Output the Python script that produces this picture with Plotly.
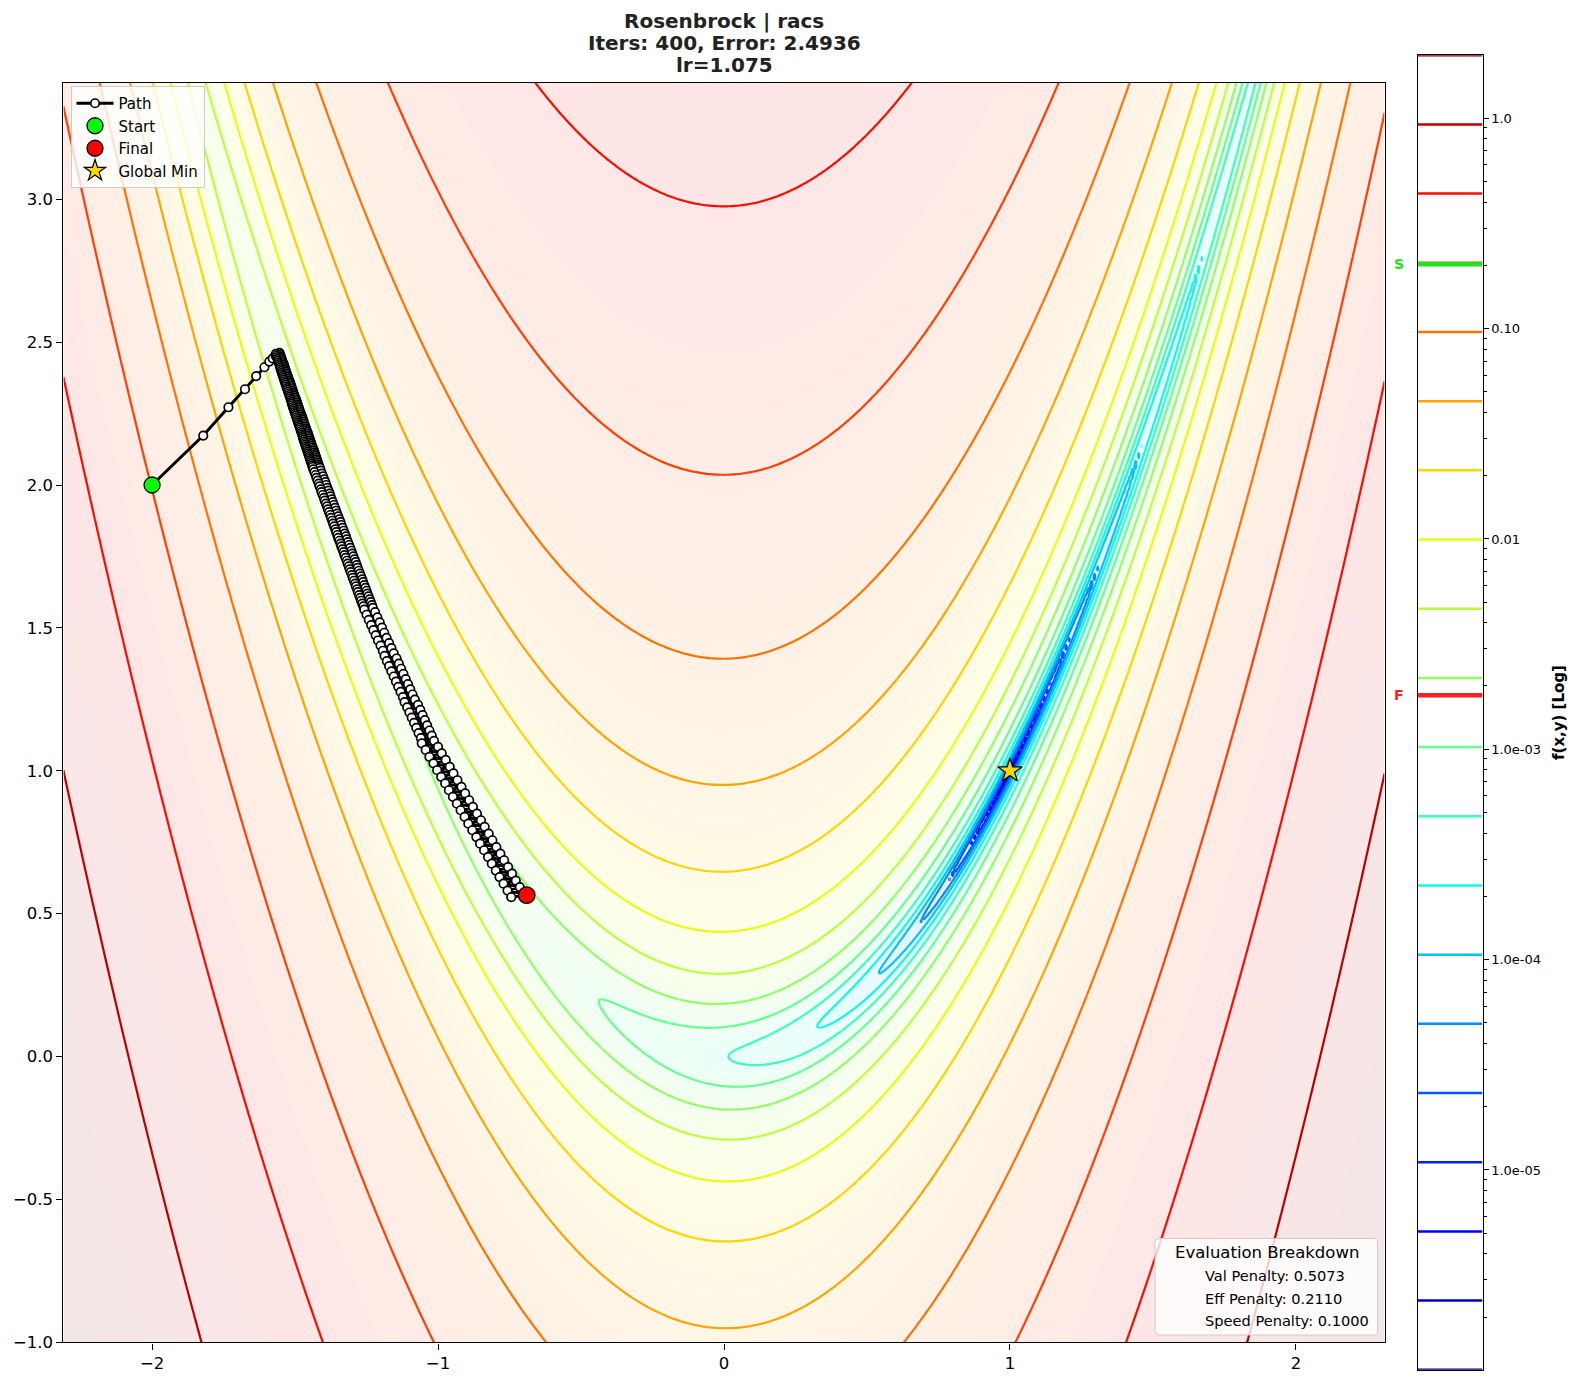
import numpy as np
import plotly.graph_objects as go

# ---------------- data ----------------
title_lines = ["Rosenbrock | racs", "Iters: 400, Error: 2.4936", "lr=1.075"]
x_range = [-2.31, 2.31]
y_range = [-1.0, 3.408]
norm_const = 2020.0          # f(x,y) is shown divided by this
level_log_min = -5.95        # log10 of lowest contour level
level_log_max = 0.30         # log10 of highest contour level
n_levels = 20
grid_n = 420

start_x, start_y = -2.0, 2.0
gmin_x, gmin_y = 1.0, 1.0

path_x = [
    -2.000, -1.821, -1.733, -1.675, -1.636, -1.607, -1.590, -1.578, -1.568,
    # upper (dense) part
    -1.554, -1.567, -1.552, -1.565, -1.550, -1.563, -1.548, -1.561, -1.546, -1.559,
    -1.544, -1.557, -1.541, -1.555, -1.539, -1.553, -1.537, -1.551, -1.535, -1.550,
    -1.533, -1.548, -1.531, -1.546, -1.529, -1.544, -1.527, -1.542, -1.525, -1.540,
    -1.523, -1.538, -1.520, -1.536, -1.518, -1.534, -1.516, -1.532, -1.514, -1.530,
    -1.512, -1.528, -1.510, -1.526, -1.508, -1.524, -1.506, -1.522, -1.504, -1.520,
    -1.502, -1.518, -1.499, -1.516, -1.497, -1.514, -1.495, -1.512, -1.493, -1.511,
    -1.491, -1.509, -1.489, -1.507, -1.487, -1.505, -1.485, -1.503, -1.483, -1.501,
    -1.481, -1.499, -1.478, -1.497, -1.476, -1.495, -1.474, -1.493, -1.472, -1.491,
    -1.470, -1.489, -1.468, -1.487, -1.466, -1.485, -1.464, -1.483, -1.462, -1.481,
    -1.460, -1.479, -1.457, -1.477, -1.455, -1.475, -1.453, -1.473, -1.451, -1.472,
    -1.449, -1.470, -1.447, -1.468, -1.445, -1.466, -1.443, -1.464, -1.441, -1.462,
    -1.439, -1.460, -1.436, -1.458, -1.434, -1.456, -1.432, -1.454, -1.430, -1.452,
    -1.428, -1.450, -1.426, -1.448, -1.424, -1.446, -1.422, -1.444, -1.420, -1.442,
    -1.418, -1.440, -1.416, -1.438, -1.413,
    # second part
    -1.436, -1.410, -1.432, -1.406, -1.428, -1.402, -1.425, -1.398, -1.421, -1.394,
    -1.417, -1.391, -1.414, -1.387, -1.410, -1.383, -1.407, -1.379, -1.403, -1.376,
    -1.399, -1.372, -1.396, -1.368, -1.392, -1.364, -1.388, -1.360, -1.385, -1.357,
    -1.381, -1.353, -1.377, -1.349, -1.374, -1.345, -1.370, -1.341, -1.367, -1.338,
    -1.363, -1.334, -1.359, -1.330, -1.356, -1.326, -1.352, -1.322, -1.349, -1.319,
    -1.345, -1.315, -1.341, -1.311, -1.338, -1.307, -1.334, -1.303, -1.330, -1.300,
    -1.327, -1.296, -1.323, -1.292, -1.319, -1.288, -1.316, -1.284, -1.312, -1.281,
    -1.309, -1.277, -1.305, -1.273, -1.301, -1.269, -1.298, -1.265, -1.294, -1.262,
    -1.290, -1.258, -1.287, -1.254, -1.283, -1.250, -1.280, -1.247, -1.276, -1.243,
    -1.272, -1.239, -1.269, -1.235, -1.265, -1.231, -1.261, -1.228,
    # third part
    -1.258, -1.220, -1.250, -1.212, -1.242, -1.204, -1.234, -1.196, -1.226, -1.188,
    -1.218, -1.180, -1.210, -1.171, -1.201, -1.163, -1.193, -1.155, -1.187, -1.145,
    -1.179, -1.137, -1.171, -1.129, -1.163, -1.121, -1.155, -1.113, -1.147, -1.105,
    -1.139, -1.097, -1.131, -1.089, -1.123, -1.081, -1.117, -1.070, -1.108, -1.062,
    -1.100, -1.054, -1.092, -1.046, -1.084, -1.038, -1.076, -1.030, -1.068, -1.022,
    -1.060, -1.014,
    # lower part
    -1.057, -1.000, -1.043, -0.987, -1.030, -0.973, -1.016, -0.959, -1.003, -0.946,
    -0.989, -0.932, -0.975, -0.918, -0.962, -0.905, -0.948, -0.891, -0.934, -0.878,
    -0.921, -0.864, -0.907, -0.850, -0.894, -0.837, -0.880, -0.823, -0.866, -0.810,
    -0.853, -0.796, -0.839, -0.782, -0.825, -0.769, -0.812, -0.755, -0.798, -0.741,
    -0.785, -0.728, -0.771, -0.714, -0.757, -0.701, -0.744,
    -0.690,
]
path_y = [
    2.000, 2.173, 2.272, 2.335, 2.381, 2.412, 2.432, 2.443, 2.453,
    2.462, 2.459, 2.456, 2.453, 2.450, 2.447, 2.444, 2.441, 2.438, 2.435,
    2.432, 2.429, 2.426, 2.423, 2.420, 2.417, 2.414, 2.411, 2.408, 2.405,
    2.402, 2.399, 2.396, 2.393, 2.390, 2.387, 2.384, 2.381, 2.378, 2.375,
    2.372, 2.369, 2.366, 2.363, 2.360, 2.357, 2.354, 2.351, 2.348, 2.345,
    2.342, 2.339, 2.336, 2.333, 2.330, 2.327, 2.324, 2.321, 2.318, 2.315,
    2.312, 2.309, 2.306, 2.303, 2.300, 2.297, 2.294, 2.291, 2.288, 2.285,
    2.282, 2.279, 2.276, 2.273, 2.270, 2.267, 2.264, 2.261, 2.258, 2.255,
    2.252, 2.249, 2.246, 2.243, 2.240, 2.237, 2.234, 2.231, 2.228, 2.225,
    2.222, 2.219, 2.216, 2.213, 2.210, 2.207, 2.204, 2.201, 2.198, 2.195,
    2.192, 2.189, 2.186, 2.183, 2.180, 2.177, 2.174, 2.171, 2.168, 2.165,
    2.162, 2.159, 2.156, 2.153, 2.150, 2.147, 2.144, 2.141, 2.138, 2.135,
    2.132, 2.129, 2.126, 2.123, 2.120, 2.117, 2.114, 2.111, 2.108, 2.105,
    2.102, 2.099, 2.096, 2.093, 2.090, 2.087, 2.084, 2.081, 2.078, 2.075,
    2.072, 2.069, 2.066, 2.063, 2.060,
    2.055, 2.050, 2.045, 2.040, 2.035, 2.030, 2.025, 2.020, 2.015, 2.010,
    2.005, 2.000, 1.995, 1.990, 1.985, 1.980, 1.975, 1.970, 1.965, 1.960,
    1.955, 1.950, 1.945, 1.940, 1.935, 1.930, 1.925, 1.920, 1.915, 1.910,
    1.905, 1.900, 1.895, 1.890, 1.885, 1.880, 1.875, 1.870, 1.865, 1.860,
    1.855, 1.850, 1.845, 1.840, 1.835, 1.830, 1.825, 1.820, 1.815, 1.810,
    1.805, 1.800, 1.795, 1.790, 1.785, 1.780, 1.775, 1.770, 1.765, 1.760,
    1.755, 1.750, 1.745, 1.740, 1.735, 1.730, 1.725, 1.720, 1.715, 1.710,
    1.705, 1.700, 1.695, 1.690, 1.685, 1.680, 1.675, 1.670, 1.665, 1.660,
    1.655, 1.650, 1.645, 1.640, 1.635, 1.630, 1.625, 1.620, 1.615, 1.610,
    1.605, 1.600, 1.595, 1.590, 1.585, 1.580, 1.575, 1.570,
    1.564, 1.555, 1.546, 1.537, 1.528, 1.519, 1.510, 1.501, 1.492, 1.483,
    1.474, 1.465, 1.456, 1.447, 1.438, 1.429, 1.420, 1.411, 1.402, 1.393,
    1.384, 1.375, 1.366, 1.357, 1.348, 1.339, 1.330, 1.321, 1.312, 1.303,
    1.294, 1.285, 1.276, 1.267, 1.258, 1.249, 1.240, 1.231, 1.222, 1.213,
    1.204, 1.195, 1.186, 1.177, 1.168, 1.159, 1.150, 1.141, 1.132, 1.123,
    1.114, 1.105,
    1.096, 1.084, 1.073, 1.061, 1.049, 1.038, 1.026, 1.014, 1.002, 0.991,
    0.979, 0.967, 0.956, 0.944, 0.932, 0.921, 0.909, 0.897, 0.885, 0.874,
    0.862, 0.850, 0.839, 0.827, 0.815, 0.804, 0.792, 0.780, 0.768, 0.757,
    0.745, 0.733, 0.722, 0.710, 0.698, 0.687, 0.675, 0.663, 0.651, 0.640,
    0.628, 0.616, 0.605, 0.593, 0.581, 0.570, 0.558,
    0.565,
]
final_x, final_y = path_x[-1], path_y[-1]

x_ticks = [-2, -1, 0, 1, 2]
y_ticks = [-1.0, -0.5, 0.0, 0.5, 1.0, 1.5, 2.0, 2.5, 3.0]
cbar_major = [1e-5, 1e-4, 1e-3, 1e-2, 1e-1, 1.0]
cbar_major_text = ["1.0e-05", "1.0e-04", "1.0e-03", "0.01", "0.10", "1.0"]
eval_title = "Evaluation Breakdown"
eval_items = ["Val Penalty: 0.5073", "Eff Penalty: 0.2110", "Speed Penalty: 0.1000"]

# ---------------- helpers ----------------
FONT = "DejaVu Sans"
W, H = 1579, 1385


def rosen(x, y):
    return (1 - x) ** 2 + 100 * (y - x ** 2) ** 2


def jet(t):
    r = np.interp(t, [0, 0.35, 0.66, 0.89, 1], [0, 0, 1, 1, 0.5])
    g = np.interp(t, [0, 0.125, 0.375, 0.64, 0.91, 1], [0, 0, 1, 1, 0, 0])
    b = np.interp(t, [0, 0.11, 0.34, 0.65, 1], [0.5, 1, 1, 0, 0])
    return r, g, b


def jet_rgb(t, alpha=1.0):
    r, g, b = jet(t)
    c = [255 * (1 - alpha) + 255 * alpha * v for v in (r, g, b)]
    return "rgb(%d,%d,%d)" % tuple(int(round(v)) for v in c)


ts = np.linspace(0, 1, 41)
jet_scale = [[float(t), jet_rgb(t)] for t in ts]
jet_pale = [[float(t), jet_rgb(t, 0.1)] for t in ts]

lstep = (level_log_max - level_log_min) / (n_levels - 1)
levels = [level_log_min + i * lstep for i in range(n_levels)]

gx = np.linspace(x_range[0], x_range[1], grid_n)
gy = np.linspace(y_range[0], y_range[1], grid_n)
GX, GY = np.meshgrid(gx, gy)
LZ = np.log10(np.maximum(rosen(GX, GY) / norm_const, 1e-12))
LZ = np.round(LZ, 4)


def px(x):
    return x / W


def py(y):
    return 1 - y / H


main_dom_x = [px(63.4), px(1384.6)]
main_dom_y = [py(1342.4), py(82.6)]
cb_dom_x = [px(1417.9), px(1482.5)]
cb_dom_y = [py(1369.8), py(55.2)]

fig = go.Figure()

# pale background
fig.add_trace(go.Heatmap(
    x=gx, y=gy, z=LZ, colorscale=jet_pale, zmin=level_log_min, zmax=level_log_max,
    zsmooth="best", showscale=False, hoverinfo="skip", showlegend=False))

# contour lines
fig.add_trace(go.Contour(
    x=gx, y=gy, z=LZ, autocontour=False,
    contours=dict(start=level_log_min, end=level_log_max, size=lstep,
                  coloring="lines", showlabels=False),
    colorscale=jet_scale, line=dict(width=2.2), showscale=False,
    hoverinfo="skip", showlegend=False))

# path
fig.add_trace(go.Scatter(
    x=path_x, y=path_y, mode="lines+markers", name="Path",
    line=dict(color="black", width=3),
    marker=dict(size=8.5, color="white", line=dict(color="black", width=1.7))))

fig.add_trace(go.Scatter(
    x=[start_x], y=[start_y], mode="markers", name="Start",
    marker=dict(size=16, color="#00ff00", line=dict(color="black", width=1.3))))
fig.add_trace(go.Scatter(
    x=[final_x], y=[final_y], mode="markers", name="Final",
    marker=dict(size=16.5, color="#ff0000", line=dict(color="black", width=1.3))))
fig.add_trace(go.Scatter(
    x=[gmin_x], y=[gmin_y], mode="markers", name="Global Min",
    marker=dict(symbol="star", size=18, color="#ffd700", line=dict(color="black", width=1.2))))

# colorbar (drawn as its own little axis)
for i, lv in enumerate(levels):
    fig.add_trace(go.Scatter(
        x=[0, 1], y=[lv, lv], mode="lines", xaxis="x2", yaxis="y2",
        line=dict(color=jet_rgb(i / (n_levels - 1)), width=2.5),
        showlegend=False, hoverinfo="skip"))

s_val = np.log10(rosen(start_x, start_y) / norm_const)
f_val = np.log10(rosen(final_x, final_y) / norm_const)
fig.add_trace(go.Scatter(x=[0, 1], y=[s_val, s_val], mode="lines", xaxis="x2", yaxis="y2",
                         line=dict(color="#22e022", width=4.5), showlegend=False, hoverinfo="skip"))
fig.add_trace(go.Scatter(x=[0, 1], y=[f_val, f_val], mode="lines", xaxis="x2", yaxis="y2",
                         line=dict(color="#ff2020", width=4.5), showlegend=False, hoverinfo="skip"))

minor_vals = []
for n in range(-7, 1):
    for k in range(2, 10):
        v = np.log10(k * 10.0 ** n)
        if level_log_min <= v <= level_log_max:
            minor_vals.append(float(v))

annotations = []
title_y = [21.0, 43.3, 65.3]
for t, yy in zip(title_lines, title_y):
    annotations.append(dict(text="<b>%s</b>" % t, x=px(724), y=py(yy), xref="paper", yref="paper",
                            showarrow=False, xanchor="center", yanchor="middle",
                            font=dict(family=FONT, size=20, color="#222222")))

annotations.append(dict(text="<b>S</b>", x=px(1399), y=s_val, xref="paper", yref="y2",
                        showarrow=False, xanchor="center", yanchor="middle",
                        font=dict(family=FONT, size=14, color="#22e022")))
annotations.append(dict(text="<b>F</b>", x=px(1399), y=f_val, xref="paper", yref="y2",
                        showarrow=False, xanchor="center", yanchor="middle",
                        font=dict(family=FONT, size=14, color="#ff2020")))
annotations.append(dict(text="<b>f(x,y) [Log]</b>", x=px(1559), y=py(713), xref="paper", yref="paper",
                        showarrow=False, textangle=-90, xanchor="center", yanchor="middle",
                        font=dict(family=FONT, size=15, color="black")))

# evaluation breakdown box
annotations.append(dict(text=eval_title, x=px(1266.5), y=py(1252), xref="paper", yref="paper",
                        showarrow=False, xanchor="center", yanchor="middle",
                        font=dict(family=FONT, size=16.5, color="black")))
for t, yy in zip(eval_items, [1275.5, 1298, 1320.5]):
    annotations.append(dict(text=t, x=px(1203), y=py(yy), xref="paper", yref="paper",
                            showarrow=False, xanchor="left", yanchor="middle",
                            font=dict(family=FONT, size=14.6, color="black")))


def rounded_rect(x0, y0, x1, y1, r):
    pts = []
    pts.append("M %f,%f" % (px(x0 + r), py(y0)))
    pts.append("L %f,%f" % (px(x1 - r), py(y0)))
    pts.append("Q %f,%f %f,%f" % (px(x1), py(y0), px(x1), py(y0 + r)))
    pts.append("L %f,%f" % (px(x1), py(y1 - r)))
    pts.append("Q %f,%f %f,%f" % (px(x1), py(y1), px(x1 - r), py(y1)))
    pts.append("L %f,%f" % (px(x0 + r), py(y1)))
    pts.append("Q %f,%f %f,%f" % (px(x0), py(y1), px(x0), py(y1 - r)))
    pts.append("L %f,%f" % (px(x0), py(y0 + r)))
    pts.append("Q %f,%f %f,%f" % (px(x0), py(y0), px(x0 + r), py(y0)))
    pts.append("Z")
    return " ".join(pts)


shapes = [dict(type="path", xref="paper", yref="paper",
               path=rounded_rect(1155, 1238.5, 1377.5, 1335, 4),
               fillcolor="rgba(255,255,255,0.8)", line=dict(color="#cccccc", width=1))]

axis_common = dict(showgrid=False, zeroline=False, showline=True, mirror=True,
                   linecolor="black", linewidth=1.2, ticks="outside", ticklen=6,
                   tickcolor="black", tickwidth=1.2,
                   tickfont=dict(family=FONT, size=16.5, color="black"))

fig.update_layout(
    width=W, height=H, autosize=False,
    margin=dict(l=0, r=0, t=0, b=0),
    paper_bgcolor="white", plot_bgcolor="white",
    font=dict(family=FONT),
    showlegend=True,
    legend=dict(x=px(70.5), y=py(86.0), xanchor="left", yanchor="top",
                bgcolor="rgba(255,255,255,0.8)", bordercolor="#cccccc", borderwidth=1,
                font=dict(family=FONT, size=15, color="black"), itemwidth=37),
    xaxis=dict(domain=main_dom_x, range=x_range, tickvals=x_ticks,
               ticktext=[("\u2212%d" % -v) if v < 0 else "%d" % v for v in x_ticks],
               automargin=False, **axis_common),
    yaxis=dict(domain=main_dom_y, range=y_range, tickvals=y_ticks,
               ticktext=[("\u2212%.1f" % -v) if v < 0 else "%.1f" % v for v in y_ticks],
               automargin=False, **axis_common),
    xaxis2=dict(domain=cb_dom_x, range=[0, 1], anchor="y2", showticklabels=False,
                ticks="", showgrid=False, zeroline=False, showline=True, mirror=True,
                linecolor="black", linewidth=1.2, automargin=False),
    yaxis2=dict(domain=cb_dom_y, range=[level_log_min, level_log_max], anchor="x2", side="right",
                tickvals=[float(np.log10(v)) for v in cbar_major], ticktext=cbar_major_text,
                ticks="outside", ticklen=5, tickwidth=1, tickcolor="black",
                minor=dict(tickvals=minor_vals, ticks="outside", ticklen=3, tickwidth=1,
                           tickcolor="black", showgrid=False),
                showgrid=False, zeroline=False, showline=True, mirror=True,
                linecolor="black", linewidth=1.2, automargin=False,
                tickfont=dict(family=FONT, size=13, color="black")),
    annotations=annotations,
    shapes=shapes,
)

fig.write_html("out.html", config={"displayModeBar": False})
